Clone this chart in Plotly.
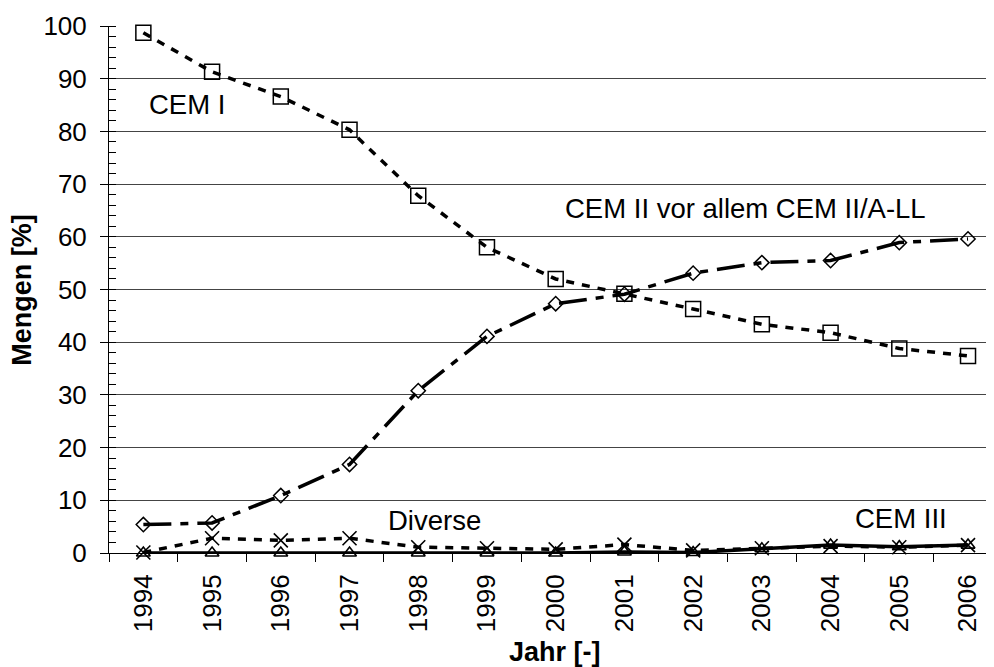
import plotly.graph_objects as go

years = ["1994", "1995", "1996", "1997", "1998", "1999", "2000",
         "2001", "2002", "2003", "2004", "2005", "2006"]
cem1 = [98.7, 91.3, 86.6, 80.3, 67.8, 58.0, 52.0, 49.2, 46.3, 43.4, 41.8, 38.8, 37.4]
cem2 = [5.4, 5.7, 10.9, 16.8, 30.8, 41.1, 47.3, 49.1, 53.1, 55.1, 55.5, 58.9, 59.6]
diverse = [0.1, 2.8, 2.4, 2.8, 1.1, 0.9, 0.7, 1.6, 0.5, 0.9, 1.3, 1.1, 1.5]
cem3 = [0.0, 0.0, 0.0, 0.0, 0.0, 0.0, 0.0, 0.2, 0.1, 0.8, 1.5, 1.2, 1.5]

FONT = "Liberation Sans, Arial, sans-serif"
OFF = 8  # page body margin
W, H = 994 - OFF, 667 - OFF
L, T = 108.6 - OFF, 26.0 - OFF
B = H - (553.3 - OFF)
PW, PH = W - L, H - T - B

fig = go.Figure()
fig.add_trace(go.Scatter(x=years, y=cem3, mode="lines+markers", cliponaxis=False,
                         line=dict(color="black", width=3.5),
                         marker=dict(symbol="triangle-up-open", size=12,
                                     color="black", line=dict(width=1.6))))
fig.add_trace(go.Scatter(x=years, y=diverse, mode="lines+markers", cliponaxis=False,
                         line=dict(color="black", width=3.5, dash="8px,8px"),
                         marker=dict(symbol="x-thin-open", size=14,
                                     color="black", line=dict(width=1.6))))
fig.add_trace(go.Scatter(x=years, y=cem2, mode="lines+markers", cliponaxis=False,
                         line=dict(color="black", width=3.5, dash="28px,9px,8px,9px"),
                         marker=dict(symbol="diamond-open", size=11,
                                     color="black", line=dict(width=1.5))))
fig.add_trace(go.Scatter(x=years, y=cem1, mode="lines+markers", cliponaxis=False,
                         line=dict(color="black", width=3.5, dash="8px,8px"),
                         marker=dict(symbol="square-open", size=15,
                                     color="black", line=dict(width=1.5))))

labels = [("CEM I", 0.633, 85.2),
          ("CEM II vor allem CEM II/A-LL", 8.756, 65.3),
          ("Diverse", 4.233, 6.2),
          ("CEM III", 11.03, 6.5)]
for txt, xx, yy in labels:
    fig.add_annotation(x=xx, y=yy, xref="x", yref="y", text=txt, showarrow=False,
                       font=dict(family=FONT, size=27.5, color="black"),
                       xanchor="center", yanchor="middle")


def px(sx):
    return (sx - OFF - L) / PW


def py(sy):
    return (H - B - (sy - OFF)) / PH


fig.add_annotation(x=px(21.5), y=py(290), xref="paper", yref="paper",
                   text="<b>Mengen [%]</b>", textangle=-90, showarrow=False,
                   font=dict(family=FONT, size=27, color="black"),
                   xanchor="center", yanchor="middle")
fig.add_annotation(x=px(555), y=py(652), xref="paper", yref="paper",
                   text="<b>Jahr [-]</b>", showarrow=False,
                   font=dict(family=FONT, size=27, color="black"),
                   xanchor="center", yanchor="middle")

fig.update_layout(
    width=W, height=H, showlegend=False,
    margin=dict(l=L, r=0, t=T, b=B, pad=0),
    paper_bgcolor="white", plot_bgcolor="white",
    font=dict(family=FONT, size=26, color="black"),
    xaxis=dict(type="category", range=[-0.5, 12.378], tickson="boundaries",
               ticks="outside", ticklen=8, tickcolor="black", tickwidth=1,
               tickangle=-90, showgrid=False, showline=True, linecolor="black",
               linewidth=1, zeroline=False, tickfont=dict(size=26),
               ticklabelstandoff=10),
    yaxis=dict(range=[0, 100], dtick=10, tick0=0, ticks="outside", ticklen=8,
               tickcolor="black", tickwidth=1, showgrid=True, gridcolor="#444",
               gridwidth=1, showline=True, linecolor="black", linewidth=1,
               zeroline=False, tickfont=dict(size=26), ticklabelstandoff=8,
               minor=dict(dtick=2, ticks="inside", ticklen=7, tickcolor="black",
                          showgrid=False)),
)

fig.write_html("out.html")
